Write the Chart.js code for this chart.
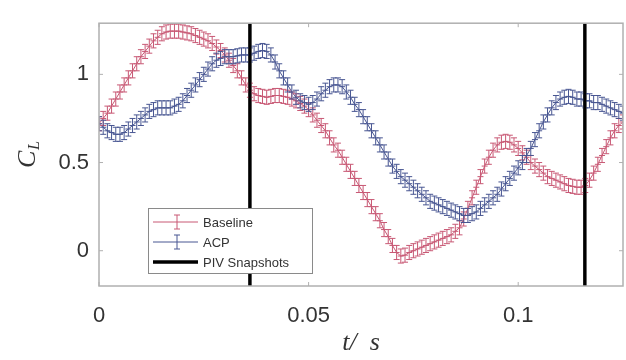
<!DOCTYPE html>
<html>
<head>
<meta charset="utf-8">
<script src="https://cdn.jsdelivr.net/npm/chart.js@4.4.1/dist/chart.umd.min.js"></script>
<style>
  html, body { margin: 0; padding: 0; background: #fff; }
  #wrap { width: 626px; height: 360px; }
</style>
</head>
<body>
<div id="wrap"><canvas id="c" width="626" height="360"></canvas></div>
<script>
// time axis (s)
const times = [
  0.000,0.001,0.002,0.003,0.004,0.005,0.006,0.007,0.008,0.009,
  0.010,0.011,0.012,0.013,0.014,0.015,0.016,0.017,0.018,0.019,
  0.020,0.021,0.022,0.023,0.024,0.025,0.026,0.027,0.028,0.029,
  0.030,0.031,0.032,0.033,0.034,0.035,0.036,0.037,0.038,0.039,
  0.040,0.041,0.042,0.043,0.044,0.045,0.046,0.047,0.048,0.049,
  0.050,0.051,0.052,0.053,0.054,0.055,0.056,0.057,0.058,0.059,
  0.060,0.061,0.062,0.063,0.064,0.065,0.066,0.067,0.068,0.069,
  0.070,0.071,0.072,0.073,0.074,0.075,0.076,0.077,0.078,0.079,
  0.080,0.081,0.082,0.083,0.084,0.085,0.086,0.087,0.088,0.089,
  0.090,0.091,0.092,0.093,0.094,0.095,0.096,0.097,0.098,0.099,
  0.100,0.101,0.102,0.103,0.104,0.105,0.106,0.107,0.108,0.109,
  0.110,0.111,0.112,0.113,0.114,0.115,0.116,0.117,0.118,0.119,
  0.120,0.121,0.122,0.123,0.124,0.125
];

// C_L Baseline
const baseline = [
  0.72,0.75,0.78,0.82,0.86,0.90,0.94,0.98,1.02,1.06,
  1.10,1.13,1.16,1.19,1.21,1.23,1.24,1.245,1.245,1.245,
  1.24,1.235,1.23,1.22,1.21,1.20,1.19,1.175,1.155,1.135,
  1.11,1.08,1.05,1.02,0.98,0.94,0.91,0.89,0.88,0.875,
  0.87,0.875,0.88,0.88,0.875,0.87,0.86,0.85,0.835,0.82,
  0.80,0.77,0.74,0.71,0.68,0.64,0.60,0.57,0.53,0.49,
  0.45,0.41,0.37,0.33,0.29,0.25,0.21,0.17,0.12,0.08,
  0.03,-0.01,-0.03,-0.025,-0.01,0.00,0.01,0.02,0.03,0.04,
  0.05,0.06,0.07,0.08,0.09,0.11,0.13,0.18,0.24,0.30,
  0.36,0.42,0.48,0.53,0.57,0.60,0.615,0.62,0.615,0.60,
  0.58,0.555,0.53,0.50,0.48,0.46,0.44,0.42,0.41,0.40,
  0.39,0.38,0.37,0.365,0.36,0.36,0.37,0.40,0.44,0.49,
  0.54,0.59,0.64,0.68,0.71,0.73
];

// C_L ACP
const acp = [
  0.72,0.70,0.68,0.67,0.66,0.66,0.67,0.69,0.71,0.73,
  0.75,0.77,0.79,0.80,0.81,0.81,0.81,0.81,0.82,0.83,
  0.85,0.88,0.91,0.94,0.97,1.00,1.03,1.06,1.08,1.09,
  1.10,1.10,1.10,1.105,1.11,1.11,1.11,1.12,1.13,1.135,
  1.13,1.11,1.07,1.02,0.98,0.94,0.90,0.87,0.85,0.84,
  0.83,0.84,0.86,0.89,0.91,0.93,0.94,0.94,0.93,0.90,
  0.87,0.83,0.80,0.76,0.72,0.68,0.64,0.60,0.56,0.52,
  0.48,0.45,0.42,0.40,0.38,0.36,0.34,0.32,0.30,0.28,
  0.27,0.26,0.25,0.24,0.23,0.22,0.21,0.20,0.20,0.21,
  0.22,0.24,0.26,0.28,0.30,0.32,0.35,0.38,0.41,0.44,
  0.47,0.50,0.54,0.58,0.63,0.68,0.73,0.77,0.81,0.84,
  0.86,0.87,0.875,0.87,0.86,0.86,0.85,0.85,0.84,0.84,
  0.83,0.82,0.81,0.80,0.79,0.78
];

// error bar half heights
const baselineErr = 0.04;
const acpErr = 0.04;

// PIV snapshot times
const pivTimes = [0.036, 0.1159];

const xTicks = [0, 0.05, 0.1];
const yTicks = [0, 0.5, 1];

const redCol = 'rgb(200,88,116)';
const blueCol = 'rgb(72,86,146)';
const tickCol = '#333';

const toPts = arr => arr.map((v, i) => ({ x: times[i], y: v }));

const datasets = [
  { label: 'Baseline', data: toPts(baseline), borderColor: redCol, borderWidth: 1, pointRadius: 0, err: baselineErr, errColor: redCol },
  { label: 'ACP', data: toPts(acp), borderColor: blueCol, borderWidth: 1, pointRadius: 0, err: acpErr, errColor: blueCol }
];
pivTimes.forEach(t => {
  datasets.push({ label: 'PIV Snapshots', data: [{ x: t, y: -1 }, { x: t, y: 2 }], borderColor: '#000', borderWidth: 3, pointRadius: 0 });
});

// error bars drawn with the chart scales
const errorBars = {
  id: 'errorBars',
  afterDatasetsDraw(chart) {
    const { ctx, chartArea, scales } = chart;
    ctx.save();
    ctx.beginPath();
    ctx.rect(chartArea.left, chartArea.top, chartArea.width, chartArea.height);
    ctx.clip();
    chart.data.datasets.forEach(ds => {
      if (!ds.err) return;
      ctx.strokeStyle = ds.errColor;
      ctx.lineWidth = 1;
      ds.data.forEach(p => {
        const x = scales.x.getPixelForValue(p.x);
        const y0 = scales.y.getPixelForValue(p.y);
        const y1 = scales.y.getPixelForValue(p.y - ds.err);
        const y2 = scales.y.getPixelForValue(p.y + ds.err);
        ctx.beginPath();
        ctx.moveTo(x, y1); ctx.lineTo(x, y2);
        ctx.moveTo(x - 3, y1); ctx.lineTo(x + 3, y1);
        ctx.moveTo(x - 3, y2); ctx.lineTo(x + 3, y2);
        // plus marker
        ctx.moveTo(x - 3, y0); ctx.lineTo(x + 3, y0);
        ctx.stroke();
      });
    });
    // PIV lines on top
    chart.data.datasets.forEach(ds => {
      if (ds.err) return;
      const x = scales.x.getPixelForValue(ds.data[0].x);
      ctx.strokeStyle = '#000';
      ctx.lineWidth = 3;
      ctx.beginPath();
      ctx.moveTo(x, chartArea.top); ctx.lineTo(x, chartArea.bottom + 1);
      ctx.stroke();
    });
    ctx.restore();
  }
};

// box, inward ticks, axis titles, legend
const decor = {
  id: 'decor',
  afterDraw(chart) {
    const { ctx, chartArea: a, scales } = chart;
    ctx.save();
    ctx.strokeStyle = '#b0b0b0';
    ctx.lineWidth = 1.5;
    ctx.strokeRect(a.left, a.top, a.width, a.height);
    ctx.lineWidth = 1;
    xTicks.forEach(t => {
      const x = scales.x.getPixelForValue(t);
      ctx.beginPath();
      ctx.moveTo(x, a.bottom); ctx.lineTo(x, a.bottom - 4);
      ctx.moveTo(x, a.top); ctx.lineTo(x, a.top + 4);
      ctx.stroke();
    });
    yTicks.forEach(t => {
      const y = scales.y.getPixelForValue(t);
      ctx.beginPath();
      ctx.moveTo(a.left, y); ctx.lineTo(a.left + 4, y);
      ctx.moveTo(a.right, y); ctx.lineTo(a.right - 4, y);
      ctx.stroke();
    });

    // x title
    ctx.fillStyle = tickCol;
    ctx.font = 'italic 26px "Liberation Serif", serif';
    ctx.textAlign = 'center';
    ctx.textBaseline = 'middle';
    ctx.fillText('t/  s', 361, 343);

    // y title C_L
    ctx.save();
    ctx.translate(28, 154);
    ctx.rotate(-Math.PI / 2);
    ctx.textAlign = 'left';
    ctx.font = 'italic 26px "Liberation Serif", serif';
    ctx.fillText('C', -14, 0);
    ctx.font = 'italic 16px "Liberation Serif", serif';
    ctx.fillText('L', 4, 7);
    ctx.restore();

    // legend
    const lx = 148, ly = 208, lw = 164, lh = 65;
    ctx.fillStyle = '#fff';
    ctx.fillRect(lx, ly, lw, lh);
    ctx.strokeStyle = '#8a8a8a';
    ctx.lineWidth = 1;
    ctx.strokeRect(lx + 0.5, ly + 0.5, lw, lh);
    const rows = [
      { label: 'Baseline', col: redCol, y: 222, err: true },
      { label: 'ACP', col: blueCol, y: 242, err: true },
      { label: 'PIV Snapshots', col: '#000', y: 262, err: false }
    ];
    rows.forEach(r => {
      ctx.strokeStyle = r.col;
      if (r.err) {
        ctx.lineWidth = 1;
        ctx.beginPath();
        ctx.moveTo(153, r.y); ctx.lineTo(198, r.y);
        ctx.moveTo(177, r.y - 7); ctx.lineTo(177, r.y + 7);
        ctx.moveTo(174, r.y - 7); ctx.lineTo(180, r.y - 7);
        ctx.moveTo(174, r.y + 7); ctx.lineTo(180, r.y + 7);
        ctx.stroke();
      } else {
        ctx.lineWidth = 3.5;
        ctx.beginPath();
        ctx.moveTo(153, r.y); ctx.lineTo(198, r.y);
        ctx.stroke();
      }
      ctx.fillStyle = '#333';
      ctx.font = '13px "Liberation Sans", Arial, sans-serif';
      ctx.textAlign = 'left';
      ctx.textBaseline = 'middle';
      ctx.fillText(r.label, 203, r.y + 1);
    });
    ctx.restore();
  }
};

new Chart(document.getElementById('c'), {
  type: 'line',
  data: { datasets },
  options: {
    responsive: false,
    animation: false,
    layout: { padding: { top: 13, right: 3, left: 0, bottom: 0 } },
    plugins: { legend: { display: false }, tooltip: { enabled: false } },
    elements: { line: { tension: 0 } },
    scales: {
      x: {
        type: 'linear',
        min: 0, max: 0.125,
        grid: { display: false, drawTicks: false },
        border: { display: false },
        afterBuildTicks: s => { s.ticks = xTicks.map(v => ({ value: v })); },
        afterFit: s => { s.height = 74; },
        ticks: {
          padding: 17,
          color: tickCol,
          font: { family: '"Liberation Sans", Arial, sans-serif', size: 22 },
          callback: v => String(v)
        }
      },
      y: {
        min: -0.2, max: 1.29,
        grid: { display: false, drawTicks: false },
        border: { display: false },
        afterBuildTicks: s => { s.ticks = yTicks.map(v => ({ value: v })); },
        afterFit: s => { s.width = 99; },
        ticks: {
          padding: 10,
          color: tickCol,
          font: { family: '"Liberation Sans", Arial, sans-serif', size: 22 },
          callback: v => String(v)
        }
      }
    }
  },
  plugins: [errorBars, decor]
});
</script>
</body>
</html>
